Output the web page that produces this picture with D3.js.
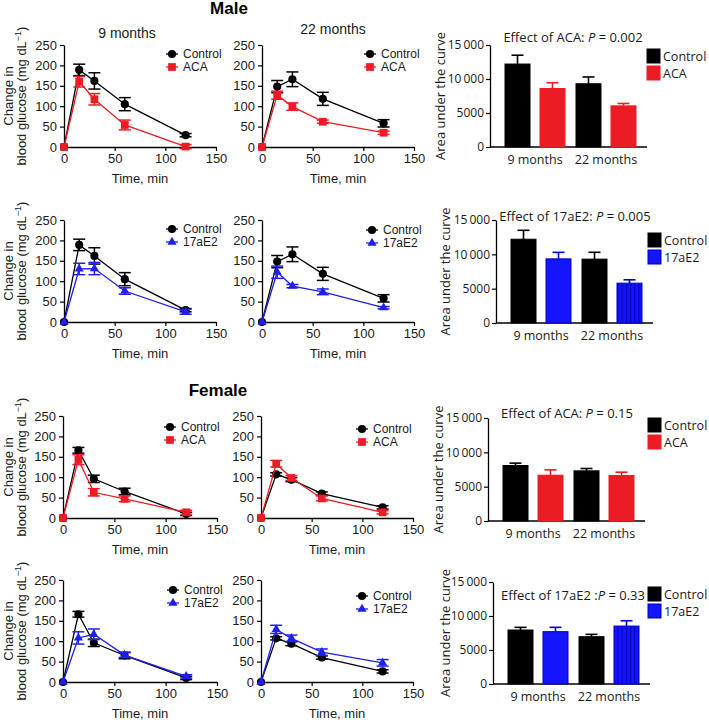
<!DOCTYPE html>
<html><head><meta charset="utf-8">
<script src="https://cdn.jsdelivr.net/npm/d3@7"></script>
<style>body{margin:0;background:#fff} svg{display:block}</style>
</head><body><svg id="c" width="709" height="720"></svg>
<script>
// ---------- data ----------
const times = [0, 15, 30, 60, 120];
const xTicks = [0, 50, 100, 150];
const yTicks = [0, 50, 100, 150, 200, 250];
const aucTicks = [0, 5000, 10000, 15000];
const aucTickLabels = ["0", "5000", "10\u2009000", "15\u2009000"];
const ages = ["9 months", "22 months"];

// Male glucose curves
const maleCtrl9 = [0, 189, 162, 105, 29];   const maleCtrl9Err = [0, 14, 20, 16, 4];
const maleCtrl22 = [0, 148, 166, 118, 58];  const maleCtrl22Err = [0, 15, 18, 16, 9];
const maleACA9 = [0, 160, 117, 54, 1];      const maleACA9Err = [0, 13, 14, 12, 5];
const maleACA22 = [0, 127, 99, 62, 35];     const maleACA22Err = [0, 10, 9, 4, 4];
const maleE2_9 = [0, 130, 131, 76, 25];     const maleE2_9Err = [0, 14, 15, 8, 6];
const maleE2_22 = [0, 122, 88, 74, 35];     const maleE2_22Err = [0, 15, 4, 7, 3];
// Female glucose curves
const femCtrl9 = [0, 166, 96, 65, 10];      const femCtrl9Err = [0, 7, 9, 8, 4];
const femCtrl22 = [0, 107, 94, 60, 26];     const femCtrl22Err = [0, 4, 5, 4, 4];
const femACA9 = [0, 143, 63, 47, 14];       const femACA9Err = [0, 12, 9, 7, 5];
const femACA22 = [0, 133, 98, 48, 14];      const femACA22Err = [0, 8, 6, 6, 4];
const femE2_9 = [0, 108, 117, 66, 14];      const femE2_9Err = [0, 15, 13, 6, 4];
const femE2_22 = [0, 129, 107, 73, 47];     const femE2_22Err = [0, 10, 8, 8, 8];

// Area under the curve (9 months, 22 months)
const maleAucCtrl = [12200, 9300];   const maleAucCtrlErr = [1300, 1000];
const maleAucACA = [8600, 6050];     const maleAucACAErr = [850, 350];
const maleAucE2 = [9340, 5800];      const maleAucE2Err = [950, 490];
const femAucCtrlA = [8085, 7305];    const femAucCtrlAErr = [340, 340];
const femAucACA = [6670, 6620];      const femAucACAErr = [780, 490];
const femAucCtrlE = [7940, 6960];    const femAucCtrlEErr = [390, 340];
const femAucE2 = [7700, 8520];       const femAucE2Err = [635, 780];

// ---------- styles ----------
const LF = "'Liberation Sans', Arial, Helvetica, sans-serif";
const OF = "'Open Sans', 'Noto Sans', sans-serif";
const RED = "#ec1c24", BLUE = "#1f1ff0", BLACK = "#000";
const BAR_BLUE = "#1414ff";
const TXT = "#1a1a1a";

const svg = d3.select("#c");
const defs = svg.append("defs");
const pat = defs.append("pattern").attr("id", "stripes").attr("patternUnits", "userSpaceOnUse")
  .attr("width", 4.2).attr("height", 10);
pat.append("rect").attr("width", 4.2).attr("height", 10).attr("fill", BAR_BLUE);
pat.append("line").attr("x1", 0.6).attr("x2", 0.6).attr("y1", 0).attr("y2", 10)
  .attr("stroke", "#0000a8").attr("stroke-width", 0.9);

const shapes = { circle: d3.symbolCircle, square: d3.symbolSquare, triangle: d3.symbolTriangle };
const shapeSize = { circle: 52, square: 60, triangle: 36 };

function styleAxis(g, font, size) {
  g.selectAll("path.domain").attr("stroke", "#000").attr("stroke-width", 1.3);
  g.selectAll(".tick line").attr("stroke", "#000").attr("stroke-width", 1.2);
  g.selectAll(".tick text").attr("font-family", font).attr("font-size", size).attr("fill", TXT);
}

function linePanel(cfg) {
  const g = svg.append("g");
  const x = d3.scaleLinear().domain([0, 150]).range([cfg.x0, cfg.x1]);
  const y = d3.scaleLinear().domain([0, 250]).range([cfg.yBot, cfg.yTop]);
  const xa = g.append("g").attr("transform", `translate(0,${cfg.yBot})`)
    .call(d3.axisBottom(x).tickValues(xTicks).tickSize(4).tickSizeOuter(0).tickPadding(3));
  styleAxis(xa, LF, 13);
  const ya = g.append("g").attr("transform", `translate(${cfg.x0},0)`)
    .call(d3.axisLeft(y).tickValues(yTicks).tickSize(4).tickSizeOuter(0).tickPadding(3));
  styleAxis(ya, LF, 13);

  g.append("text").attr("x", (cfg.x0 + cfg.x1) / 2).attr("y", cfg.yBot + 36).attr("fill", TXT)
    .attr("text-anchor", "middle").attr("font-family", LF).attr("font-size", 13).text("Time, min");
  if (cfg.title) {
    g.append("text").attr("x", cfg.titleX).attr("y", cfg.titleY).attr("fill", TXT)
      .attr("text-anchor", "middle").attr("font-family", LF).attr("font-size", 14).text(cfg.title);
  }
  if (cfg.yTitle) {
    const cy = (cfg.yTop + cfg.yBot) / 2;
    const t = g.append("text").attr("transform", `translate(13,${cy}) rotate(-90)`).attr("fill", TXT)
      .attr("text-anchor", "middle").attr("font-family", LF).attr("font-size", 13);
    t.append("tspan").attr("x", 0).attr("y", 0).text("Change in");
    t.append("tspan").attr("x", 0).attr("y", 13).text("blood glucose (mg dL");
    t.append("tspan").attr("dy", -5).attr("font-size", 9).text("\u22121");
    t.append("tspan").attr("dy", 5).text(")");
  }

  const line = d3.line().x((d, i) => x(times[i])).y(d => y(d));
  cfg.series.forEach(s => {
    const sg = g.append("g");
    sg.append("path").datum(s.vals).attr("d", line).attr("fill", "none")
      .attr("stroke", s.color).attr("stroke-width", 1.3);
    s.vals.forEach((v, i) => {
      const e = s.errs[i];
      if (e > 0) {
        const cx = x(times[i]);
        sg.append("line").attr("x1", cx).attr("x2", cx).attr("y1", y(v - e)).attr("y2", y(v + e))
          .attr("stroke", s.color).attr("stroke-width", 1.5);
        [v - e, v + e].forEach(b => sg.append("line").attr("x1", cx - 6).attr("x2", cx + 6)
          .attr("y1", y(b)).attr("y2", y(b)).attr("stroke", s.color).attr("stroke-width", 1.5));
      }
    });
    sg.selectAll("path.pt").data(s.vals).enter().append("path").attr("class", "pt")
      .attr("transform", (d, i) => `translate(${x(times[i])},${y(d)})`)
      .attr("d", d3.symbol().type(shapes[s.shape]).size(shapeSize[s.shape]))
      .attr("fill", s.color);
  });
  // legend
  cfg.series.forEach((s, k) => {
    const ly = cfg.legY + k * 13;
    g.append("line").attr("x1", cfg.legX - 6).attr("x2", cfg.legX + 6).attr("y1", ly).attr("y2", ly)
      .attr("stroke", s.color).attr("stroke-width", 1.3);
    g.append("path").attr("transform", `translate(${cfg.legX},${ly})`)
      .attr("d", d3.symbol().type(shapes[s.shape]).size(shapeSize[s.shape])).attr("fill", s.color);
    g.append("text").attr("x", cfg.legX + 11).attr("y", ly + 4.3).attr("font-family", LF).attr("fill", TXT)
      .attr("font-size", 12).text(s.label);
  });
}

function barPanel(cfg) {
  const g = svg.append("g");
  const y = d3.scaleLinear().domain([0, 15000]).range([cfg.yBot, cfg.yTop]);
  const x0 = d3.scaleBand().domain(ages).range([cfg.ax + 4, cfg.ax + 157]).paddingInner(0.155).paddingOuter(0.155);
  const x1 = d3.scaleBand().domain([0, 1]).range([0, x0.bandwidth()]).paddingInner(0.2857);
  const ya = g.append("g").attr("transform", `translate(${cfg.ax},0)`)
    .call(d3.axisLeft(y).tickValues(aucTicks).tickFormat((d, i) => aucTickLabels[i])
      .tickSize(4).tickSizeOuter(0).tickPadding(2));
  styleAxis(ya, OF, 12);
  g.append("line").attr("x1", cfg.ax).attr("x2", cfg.ax + 157).attr("y1", cfg.yBot).attr("y2", cfg.yBot)
    .attr("stroke", "#000").attr("stroke-width", 1.3);

  cfg.series.forEach((s, k) => {
    s.vals.forEach((v, i) => {
      const bx = x0(ages[i]) + x1(k), bw = x1.bandwidth();
      const cx = bx + bw / 2;
      g.append("line").attr("x1", cx).attr("x2", cx).attr("y1", y(v)).attr("y2", y(v + s.errs[i]))
        .attr("stroke", s.err).attr("stroke-width", 1.6);
      g.append("line").attr("x1", cx - 6).attr("x2", cx + 6).attr("y1", y(v + s.errs[i])).attr("y2", y(v + s.errs[i]))
        .attr("stroke", s.err).attr("stroke-width", 1.6);
      g.append("rect").attr("x", bx).attr("y", y(v)).attr("width", bw).attr("height", cfg.yBot - y(v))
        .attr("fill", (s.hatch && i === 1) ? "url(#stripes)" : s.color)
        .attr("stroke", s.stroke).attr("stroke-width", 1);
    });
  });
  ages.forEach(a => {
    g.append("text").attr("x", x0(a) + x0.bandwidth() / 2).attr("y", cfg.yBot + 17).attr("fill", TXT)
      .attr("text-anchor", "middle").attr("font-family", OF).attr("font-size", 12.5).text(a);
  });
  const cy = (cfg.yTop + cfg.yBot) / 2;
  g.append("text").attr("transform", `translate(${cfg.ytX},${cy}) rotate(-90)`).attr("dy", "0.35em").attr("fill", TXT)
    .attr("text-anchor", "middle").attr("font-family", OF).attr("font-size", 13).text("Area under the curve");
  const tt = g.append("text").attr("x", cfg.titleX).attr("y", cfg.titleY).attr("text-anchor", "middle")
    .attr("font-family", OF).attr("font-size", 13).attr("fill", TXT);
  tt.append("tspan").text(cfg.titlePre);
  tt.append("tspan").attr("font-style", "italic").text("P");
  tt.append("tspan").text(cfg.titlePost);
  cfg.series.forEach((s, k) => {
    const ly = cfg.legY + k * 17;
    g.append("rect").attr("x", cfg.legX).attr("y", ly).attr("width", 13).attr("height", 14)
      .attr("fill", s.color).attr("stroke", s.stroke).attr("stroke-width", 1);
    g.append("text").attr("x", cfg.legX + 16).attr("y", ly + 11.5).attr("font-family", OF).attr("fill", TXT)
      .attr("font-size", 12.5).text(s.label);
  });
}

// ---------- headings ----------
svg.append("text").attr("x", 229).attr("y", 14).attr("text-anchor", "middle").attr("font-family", LF)
  .attr("font-size", 17).attr("font-weight", "bold").text("Male");
svg.append("text").attr("x", 218).attr("y", 396).attr("text-anchor", "middle").attr("font-family", LF)
  .attr("font-size", 17).attr("font-weight", "bold").text("Female");

const ctl = (v, e) => ({ vals: v, errs: e, color: BLACK, shape: "circle", label: "Control" });
const aca = (v, e) => ({ vals: v, errs: e, color: RED, shape: "square", label: "ACA" });
const e2 = (v, e) => ({ vals: v, errs: e, color: BLUE, shape: "triangle", label: "17aE2" });

const rows = [
  { yTop: 45, yBot: 147 }, { yTop: 220, yBot: 322 }, { yTop: 416, yBot: 518 }, { yTop: 580, yBot: 682 }
];

// Row 1
linePanel({ x0: 64, x1: 216, ...rows[0], yTitle: true, title: "9 months", titleX: 127, titleY: 38,
  legX: 172, legY: 54, series: [ctl(maleCtrl9, maleCtrl9Err), aca(maleACA9, maleACA9Err)] });
linePanel({ x0: 262, x1: 414, ...rows[0], title: "22 months", titleX: 333, titleY: 34,
  legX: 370, legY: 54, series: [ctl(maleCtrl22, maleCtrl22Err), aca(maleACA22, maleACA22Err)] });
// Row 2
linePanel({ x0: 64, x1: 216, ...rows[1], yTitle: true,
  legX: 172, legY: 229, series: [ctl(maleCtrl9, maleCtrl9Err), e2(maleE2_9, maleE2_9Err)] });
linePanel({ x0: 262, x1: 414, ...rows[1],
  legX: 372, legY: 230, series: [ctl(maleCtrl22, maleCtrl22Err), e2(maleE2_22, maleE2_22Err)] });
// Row 3
linePanel({ x0: 63, x1: 217, ...rows[2], yTitle: true,
  legX: 170, legY: 427, series: [ctl(femCtrl9, femCtrl9Err), aca(femACA9, femACA9Err)] });
linePanel({ x0: 261, x1: 413, ...rows[2],
  legX: 362, legY: 429, series: [ctl(femCtrl22, femCtrl22Err), aca(femACA22, femACA22Err)] });
// Row 4
linePanel({ x0: 63, x1: 217, ...rows[3], yTitle: true,
  legX: 173, legY: 590, series: [ctl(femCtrl9, femCtrl9Err), e2(femE2_9, femE2_9Err)] });
linePanel({ x0: 261, x1: 413, ...rows[3],
  legX: 362, legY: 596, series: [ctl(femCtrl22, femCtrl22Err), e2(femE2_22, femE2_22Err)] });

// Bars
const bc = (v, e) => ({ vals: v, errs: e, color: BLACK, stroke: BLACK, err: BLACK, label: "Control" });
const ba = (v, e) => ({ vals: v, errs: e, color: RED, stroke: RED, err: RED, label: "ACA" });
const be = (v, e) => ({ vals: v, errs: e, color: BAR_BLUE, stroke: "#0000c8", err: "#0000e0", label: "17aE2", hatch: true });

barPanel({ ax: 490, yTop: 45, yBot: 147, ytX: 440, titleX: 573, titleY: 41.5,
  titlePre: "Effect of ACA: ", titlePost: " = 0.002", legX: 647, legY: 49,
  series: [bc(maleAucCtrl, maleAucCtrlErr), ba(maleAucACA, maleAucACAErr)] });
barPanel({ ax: 496, yTop: 220, yBot: 323, ytX: 445, titleX: 575, titleY: 220.5,
  titlePre: "Effect of 17aE2: ", titlePost: " = 0.005", legX: 648, legY: 233,
  series: [bc(maleAucCtrl, maleAucCtrlErr), be(maleAucE2, maleAucE2Err)] });
barPanel({ ax: 488, yTop: 418, yBot: 521, ytX: 438, titleX: 567, titleY: 417.5,
  titlePre: "Effect of ACA: ", titlePost: " = 0.15", legX: 648, legY: 418,
  series: [bc(femAucCtrlA, femAucCtrlAErr), ba(femAucACA, femAucACAErr)] });
barPanel({ ax: 493, yTop: 582, yBot: 684, ytX: 445, titleX: 573, titleY: 599.5,
  titlePre: "Effect of 17aE2 :", titlePost: " = 0.33", legX: 648, legY: 587,
  series: [bc(femAucCtrlE, femAucCtrlEErr), be(femAucE2, femAucE2Err)] });
</script>
</body></html>
